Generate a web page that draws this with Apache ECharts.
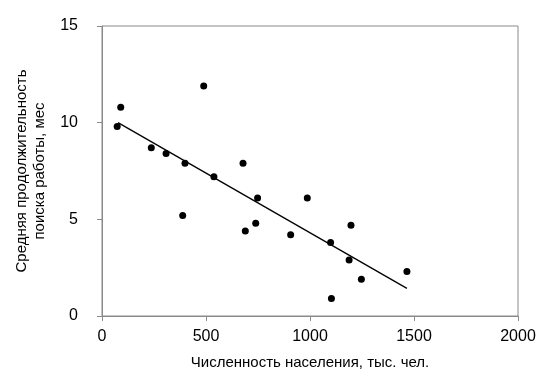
<!DOCTYPE html>
<html>
<head>
<meta charset="utf-8">
<script src="https://cdn.jsdelivr.net/npm/echarts@6/dist/echarts.min.js"></script>
<style>html,body{margin:0;padding:0;background:#fff;}#c{width:547px;height:389px;}</style>
</head>
<body>
<div id="c"></div>
<script>
// Population (thousand people)
const population = [73, 90, 489, 237, 308, 399, 388, 678, 538, 689, 739, 748, 987, 907, 1099, 1197, 1188, 1103, 1247, 1466];
// Average job search duration (months)
const duration = [9.8, 10.8, 11.9, 8.7, 8.4, 7.9, 5.2, 7.9, 7.2, 4.4, 4.8, 6.1, 6.1, 4.2, 3.8, 4.7, 2.9, 0.9, 1.9, 2.3];
// Trend line endpoints
const trendX = [77, 1466];
const trendY = [10.0, 1.43];
const xTicks = [0, 500, 1000, 1500, 2000];
const yTicks = [0, 5, 10, 15];

const font = 'Liberation Sans, Arial, sans-serif';
const chart = echarts.init(document.getElementById('c'), null, {renderer: 'canvas'});
chart.setOption({
  animation: false,
  grid: {left: 102, right: 29, top: 26, bottom: 73, show: true, borderColor: '#8a8a8a', borderWidth: 1},
  xAxis: {
    type: 'value', min: xTicks[0], max: xTicks[xTicks.length - 1], interval: 500,
    splitLine: {show: false},
    axisLine: {show: true, lineStyle: {color: '#8a8a8a', width: 1}},
    axisTick: {show: true, length: 5, lineStyle: {color: '#8a8a8a'}},
    axisLabel: {color: '#000', fontSize: 16, fontFamily: font, margin: 13, formatter: v => String(v)},
    name: 'Численность населения, тыс. чел.',
    nameLocation: 'middle', nameGap: 39,
    nameTextStyle: {color: '#000', fontSize: 15, fontFamily: font}
  },
  yAxis: {
    type: 'value', min: yTicks[0], max: yTicks[yTicks.length - 1], interval: 5,
    splitLine: {show: false},
    axisLine: {show: true, lineStyle: {color: '#8a8a8a', width: 1}},
    axisTick: {show: true, length: 5, lineStyle: {color: '#8a8a8a'}},
    axisLabel: {color: '#000', fontSize: 16, fontFamily: font, margin: 24, formatter: v => String(v)},
    name: 'Средняя продолжительность\nпоиска работы, мес',
    nameLocation: 'middle', nameGap: 50,
    nameTextStyle: {color: '#000', fontSize: 15, fontFamily: font, lineHeight: 18}
  },
  series: [
    {
      type: 'scatter', symbol: 'circle', symbolSize: 7,
      itemStyle: {color: '#000', opacity: 1},
      data: population.map((x, i) => [x, duration[i]])
    },
    {
      type: 'line', symbol: 'none',
      lineStyle: {color: '#000', width: 1.3},
      data: trendX.map((x, i) => [x, trendY[i]])
    }
  ]
});
</script>
</body>
</html>
